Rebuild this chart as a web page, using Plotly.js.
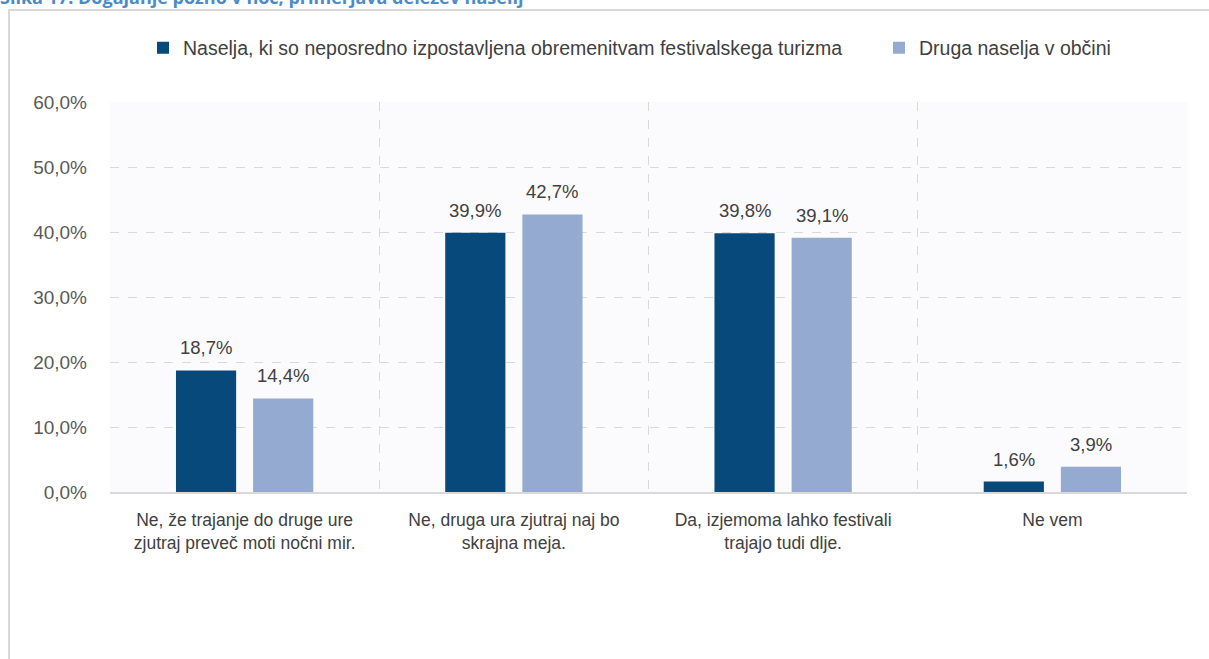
<!DOCTYPE html>
<html>
<head>
<meta charset="utf-8">
<script src="https://cdn.plot.ly/plotly-3.0.1.min.js"></script>
<style>
  html, body { margin: 0; padding: 0; background: #fff; }
  #chart { width: 1209px; height: 659px; }
</style>
</head>
<body>
<div id="chart"></div>
<script>
// Survey answers, share of respondents (%)
const categories = [
  'Ne, že trajanje do druge ure<br>zjutraj preveč moti nočni mir.',
  'Ne, druga ura zjutraj naj bo<br>skrajna meja.',
  'Da, izjemoma lahko festivali<br>trajajo tudi dlje.',
  'Ne vem',
];
const exposedName = 'Naselja, ki so neposredno izpostavljena obremenitvam festivalskega turizma';
const otherName = 'Druga naselja v občini';
const exposedValues = [18.7, 39.9, 39.8, 1.6];
const otherValues = [14.4, 42.7, 39.1, 3.9];
const yTicks = [0, 10, 20, 30, 40, 50, 60];
const yTickText = yTicks.map(v => v.toFixed(1).replace('.', ',') + '%');

const W = 1209, H = 659;
const margin = { l: 110, r: 22, t: 102, b: 167 };
const plotW = W - margin.l - margin.r;
const plotH = H - margin.t - margin.b;
// pixel -> paper helpers for the outer frame, legends and caption
const px = x => (x - margin.l) / plotW;
const py = y => (H - margin.b - y) / plotH;

const SANS = 'Liberation Sans, Arial, sans-serif';
const labelFont = { family: SANS, size: 18.5, color: '#404040' };
const legendFont = { family: SANS, size: 19.5, color: '#404040' };
const fmt = v => v.toFixed(1).replace('.', ',') + '%';

const traces = [
  {
    type: 'bar', name: exposedName, x: categories, y: exposedValues,
    marker: { color: '#08497b' }, hoverinfo: 'none', legend: 'legend',
  },
  {
    type: 'bar', name: otherName, x: categories, y: otherValues,
    marker: { color: '#94aad1' }, hoverinfo: 'none', legend: 'legend2',
  },
];

// value labels above the bars; the two bars of a group sit ~38px left/right of the category centre
const barShift = 38.5;
const valueLabels = [];
categories.forEach((c, i) => {
  [[exposedValues[i], -barShift], [otherValues[i], barShift]].forEach(([v, dx]) => {
    valueLabels.push({
      x: c, y: v, xref: 'x', yref: 'y', text: fmt(v), showarrow: false,
      xanchor: 'center', yanchor: 'bottom', xshift: dx, yshift: 10, font: labelFont,
    });
  });
});

const layout = {
  width: W, height: H,
  margin: margin,
  paper_bgcolor: '#ffffff',
  plot_bgcolor: '#fbfbfd',
  font: { family: SANS, size: 17, color: '#595959' },
  barmode: 'group',
  bargap: 0.427,
  bargroupgap: 0.22,
  showlegend: true,
  legend: {
    orientation: 'h', x: px(143), xanchor: 'left', y: py(48), yanchor: 'middle',
    font: legendFont, itemwidth: 30,
  },
  legend2: {
    orientation: 'h', x: px(879), xanchor: 'left', y: py(48), yanchor: 'middle',
    font: legendFont, itemwidth: 30,
  },
  xaxis: {
    type: 'category', tickson: 'boundaries', ticks: '', tickangle: 0,
    showgrid: true, gridcolor: '#d9d9d9', griddash: 'dash', gridwidth: 1,
    showline: true, linecolor: '#d9d9d9', linewidth: 2,
    tickfont: { family: SANS, size: 17.5, color: '#404040' }, ticklabelstandoff: 11, fixedrange: true,
  },
  yaxis: {
    range: [0, 60], tickvals: yTicks, ticktext: yTickText,
    showgrid: true, gridcolor: '#d9d9d9', griddash: 'dash', gridwidth: 1,
    zeroline: false, showline: false, ticks: '',
    tickfont: { family: SANS, size: 19, color: '#595959' }, ticklabelstandoff: 22, fixedrange: true,
  },
  shapes: [
    // outer frame (left and top edges)
    { type: 'line', xref: 'paper', yref: 'paper', x0: px(9), x1: px(9), y0: py(10), y1: py(H + 5),
      line: { color: '#d9d9d9', width: 2 } },
    { type: 'line', xref: 'paper', yref: 'paper', x0: px(8), x1: px(W + 5), y0: py(10), y1: py(10),
      line: { color: '#d9d9d9', width: 2 } },
  ],
  annotations: [
    { text: '<b>Slika 17: Dogajanje pozno v noč, primerjava deležev naselij</b>',
      xref: 'paper', yref: 'paper', x: px(-2), xanchor: 'left', y: py(11), yanchor: 'bottom',
      showarrow: false, font: { family: 'Open Sans, sans-serif', size: 18, color: '#4a8bc9' } },
    ...valueLabels,
  ],
};

Plotly.newPlot('chart', traces, layout, { displayModeBar: false, staticPlot: true });
</script>
</body>
</html>
